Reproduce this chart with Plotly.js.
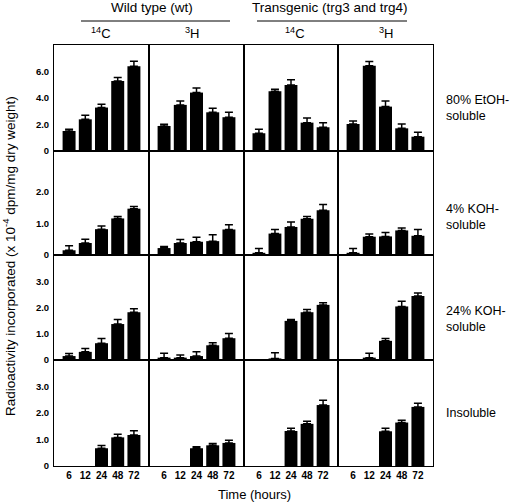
<!DOCTYPE html>
<html>
<head>
<meta charset="utf-8">
<script src="https://cdn.plot.ly/plotly-3.0.1.min.js"></script>
<style>html,body{margin:0;padding:0;background:#fff;}#chart{width:512px;height:503px;}</style>
</head>
<body>
<div id="chart"></div>
<script>
// ---- Data ----
const timeLabels = ['6', '12', '24', '48', '72'];
const groupLabels = ['Wild type (wt)', 'Transgenic (trg3 and trg4)'];
const isotopeLabels = ['<sup>14</sup>C', '<sup>3</sup>H', '<sup>14</sup>C', '<sup>3</sup>H'];
const fractionLabels = ['80% EtOH-<br>soluble', '4% KOH-<br>soluble', '24% KOH-<br>soluble', 'Insoluble'];

// each row: [wt 14C, wt 3H, trg 14C, trg 3H]
const etohValues = [
  [1.51, 2.39, 3.28, 5.29, 6.40],
  [1.89, 3.48, 4.41, 2.92, 2.55],
  [1.34, 4.51, 4.99, 2.14, 1.79],
  [2.04, 6.43, 3.35, 1.71, 1.08]
];
const etohErrors = [
  [0.13, 0.30, 0.25, 0.26, 0.38],
  [0.13, 0.30, 0.35, 0.31, 0.37],
  [0.30, 0.15, 0.38, 0.35, 0.35],
  [0.23, 0.33, 0.43, 0.33, 0.33]
];
const koh4Values = [
  [0.15, 0.38, 0.82, 1.16, 1.47],
  [0.22, 0.38, 0.42, 0.44, 0.81],
  [0.07, 0.68, 0.89, 1.15, 1.42],
  [0.07, 0.58, 0.59, 0.78, 0.61]
];
const koh4Errors = [
  [0.14, 0.12, 0.10, 0.06, 0.07],
  [0.05, 0.11, 0.14, 0.20, 0.15],
  [0.14, 0.13, 0.16, 0.07, 0.18],
  [0.14, 0.09, 0.12, 0.08, 0.20]
];
const koh24Values = [
  [0.15, 0.31, 0.64, 1.37, 1.82],
  [0.09, 0.09, 0.15, 0.56, 0.83],
  [null, 0.06, 1.49, 1.82, 2.10],
  [null, 0.09, 0.73, 2.04, 2.44]
];
const koh24Errors = [
  [0.10, 0.13, 0.18, 0.17, 0.13],
  [0.17, 0.10, 0.16, 0.10, 0.18],
  [null, 0.22, 0.05, 0.10, 0.08],
  [null, 0.17, 0.09, 0.20, 0.11]
];
const insolValues = [
  [null, null, 0.67, 1.08, 1.17],
  [null, null, 0.67, 0.78, 0.87],
  [null, null, 1.32, 1.59, 2.30],
  [null, null, 1.31, 1.64, 2.23]
];
const insolErrors = [
  [null, null, 0.10, 0.12, 0.16],
  [null, null, 0.06, 0.07, 0.10],
  [null, null, 0.10, 0.10, 0.18],
  [null, null, 0.11, 0.09, 0.14]
];
const rowValues = [etohValues, koh4Values, koh24Values, insolValues];
const rowErrors = [etohErrors, koh4Errors, koh24Errors, insolErrors];
const rowRanges = [[0, 8], [0, 3.3], [0, 4], [0, 4]];
const rowTickVals = [[0, 2, 4, 6], [0, 1, 2], [0, 1, 2, 3], [0, 1, 2, 3]];
const rowTickText = [['0', '2.0', '4.0', '6.0'], ['0', '1.0', '2.0'], ['0', '1.0', '2.0', '3.0'], ['0', '1.0', '2.0', '3.0']];

// ---- Layout geometry (pixels) ----
const W = 512, H = 503;
const colEdges = [54, 149, 244, 338, 433];
const rowEdges = [45, 151, 255, 360, 466];
const px = x => x / W;
const py = y => 1 - y / H;

const FONT = 'Liberation Sans, Arial, sans-serif';
const traces = [];
const layout = {
  width: W, height: H,
  margin: {l: 0, r: 0, t: 0, b: 0},
  paper_bgcolor: '#fff', plot_bgcolor: 'rgba(0,0,0,0)',
  showlegend: false,
  bargap: 0.2,
  font: {family: FONT, color: '#000'},
  annotations: [], shapes: []
};

for (let r = 0; r < 4; r++) {
  for (let c = 0; c < 4; c++) {
    const n = r * 4 + c + 1;
    const xa = 'xaxis' + (n === 1 ? '' : n);
    const ya = 'yaxis' + (n === 1 ? '' : n);
    const xid = 'x' + (n === 1 ? '' : n);
    const yid = 'y' + (n === 1 ? '' : n);
    traces.push({
      type: 'bar', x: timeLabels, y: rowValues[r][c],
      xaxis: xid, yaxis: yid,
      marker: {color: '#000', line: {width: 0}},
      width: 0.8,
      error_y: {type: 'data', symmetric: false, array: rowErrors[r][c],
                arrayminus: rowErrors[r][c].map(() => 0),
                color: '#000', thickness: 1.5, width: 4},
      hoverinfo: 'none'
    });
    layout[xa] = {
      domain: [px(colEdges[c]), px(colEdges[c + 1])],
      anchor: yid, type: 'category', categoryorder: 'array', categoryarray: timeLabels,
      range: [-0.93, 4.93], fixedrange: true,
      showline: true, linecolor: '#000', linewidth: 1, mirror: true,
      showgrid: false, zeroline: false, ticks: '',
      showticklabels: r === 3,
      tickfont: {family: FONT, size: 10, weight: 'bold', color: '#000'}
    };
    layout[ya] = {
      domain: [py(rowEdges[r + 1]), py(rowEdges[r])],
      anchor: xid, range: rowRanges[r], fixedrange: true,
      showline: true, linecolor: '#000', linewidth: 1, mirror: true,
      showgrid: false, zeroline: false, ticks: '',
      tickvals: rowTickVals[r], ticktext: rowTickText[r],
      showticklabels: c === 0,
      ticklabelstandoff: 2,
      tickfont: {family: FONT, size: 9.5, weight: 'bold', color: '#000'}
    };
  }
}

// Group headers and lines
const groupCenters = [152, 330];
const groupLines = [[81, 230], [257, 407]];
for (let g = 0; g < 2; g++) {
  layout.annotations.push({
    xref: 'paper', yref: 'paper', x: px(groupCenters[g]), y: py(8),
    text: groupLabels[g], showarrow: false, xanchor: 'center', yanchor: 'middle',
    font: {family: FONT, size: 13.5, color: '#000'}
  });
  layout.shapes.push({
    type: 'line', xref: 'paper', yref: 'paper',
    x0: px(groupLines[g][0]), x1: px(groupLines[g][1]), y0: py(21), y1: py(21),
    line: {color: '#000', width: 1}
  });
}
// Isotope labels
const isoCenters = [101, 192, 295, 386];
for (let c = 0; c < 4; c++) {
  layout.annotations.push({
    xref: 'paper', yref: 'paper', x: px(isoCenters[c]), y: py(33),
    text: isotopeLabels[c], showarrow: false, xanchor: 'center', yanchor: 'middle',
    font: {family: FONT, size: 13, color: '#000'}
  });
}
// Fraction labels
const fracY = [108, 217, 319, 413];
for (let r = 0; r < 4; r++) {
  layout.annotations.push({
    xref: 'paper', yref: 'paper', x: px(444), y: py(fracY[r]),
    text: fractionLabels[r], showarrow: false, xanchor: 'left', yanchor: 'middle', align: 'left',
    font: {family: FONT, size: 12.5, color: '#000'}
  });
}
// Axis titles
layout.annotations.push({
  xref: 'paper', yref: 'paper', x: px(9), y: py(256),
  text: 'Radioactivity incorporated (x 10<sup>-4</sup> dpm/mg dry weight)',
  showarrow: false, textangle: -90, xanchor: 'center', yanchor: 'middle',
  font: {family: FONT, size: 13.5, color: '#000'}
});
layout.annotations.push({
  xref: 'paper', yref: 'paper', x: px(254), y: py(494),
  text: 'Time (hours)', showarrow: false, xanchor: 'center', yanchor: 'middle',
  font: {family: FONT, size: 13, color: '#000'}
});

Plotly.newPlot('chart', traces, layout, {staticPlot: true, displayModeBar: false});
</script>
</body>
</html>
